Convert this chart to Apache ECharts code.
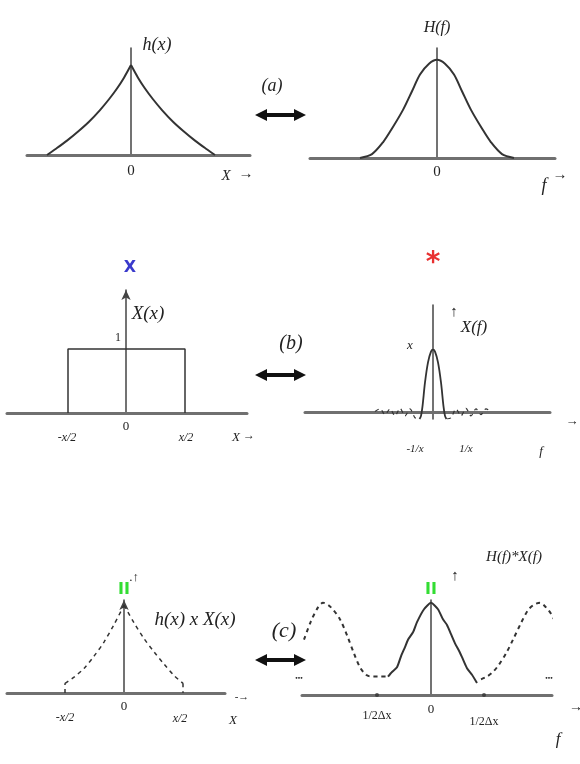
<!DOCTYPE html>
<html>
<head>
<meta charset="utf-8">
<script src="https://cdn.jsdelivr.net/npm/echarts@6/dist/echarts.min.js"></script>
<style>
  html, body { margin: 0; padding: 0; background: #fff; }
  #chart { width: 580px; height: 764px; }
</style>
</head>
<body>
<div id="chart"></div>
<script>
// === DATA (x in units of 100px from each origin) ===
// (a) left: h(x)
const hxX = [-0.84, -0.75, -0.64, -0.52, -0.42, -0.31, -0.22, -0.14, -0.07, 0, 0.07, 0.14, 0.22, 0.31, 0.42, 0.52, 0.64, 0.75, 0.84];
const hxY = [0, 0.07, 0.16, 0.27, 0.37, 0.5, 0.62, 0.74, 0.86, 1, 0.86, 0.74, 0.62, 0.5, 0.37, 0.27, 0.16, 0.07, 0];
// (a) right: H(f)
const HfX = [-0.77, -0.65, -0.54, -0.45, -0.34, -0.25, -0.17, -0.08, 0, 0.08, 0.17, 0.25, 0.34, 0.45, 0.54, 0.65, 0.77];
const HfY = [0, 0.04, 0.16, 0.3, 0.49, 0.68, 0.85, 0.96, 1, 0.96, 0.85, 0.68, 0.49, 0.3, 0.16, 0.04, 0];
// (b) left: rect X(x)
const rectX = [-0.58, -0.58, 0.59, 0.59];
const rectY = [0, 1, 1, 0];
// (b) right: X(f) main lobe + side lobes
const mainX = [-0.135, -0.12, -0.105, -0.08, -0.05, -0.02, 0, 0.02, 0.05, 0.08, 0.105, 0.12, 0.135];
const mainY = [-0.1, -0.05, 0.1, 0.48, 0.8, 0.97, 1, 0.97, 0.8, 0.48, 0.1, -0.05, -0.1];
const sideLX = [-0.58, -0.53, -0.48, -0.43, -0.38, -0.33, -0.28, -0.23, -0.18, -0.14];
const sideLY = [0.02, 0.06, -0.03, 0.06, -0.05, 0.07, -0.05, 0.06, -0.08, -0.1];
const sideRX = [0.14, 0.18, 0.23, 0.28, 0.33, 0.38, 0.43, 0.48, 0.53, 0.58];
const sideRY = [-0.1, -0.08, 0.06, -0.05, 0.07, -0.05, 0.06, -0.03, 0.06, 0.02];
// (c) left: h(x) x X(x)
const clX = [-0.59, -0.59, -0.5, -0.4, -0.3, -0.2, -0.1, 0, 0.1, 0.2, 0.3, 0.4, 0.5, 0.59, 0.59];
const clY = [0, 0.11, 0.18, 0.28, 0.42, 0.58, 0.78, 1, 0.8, 0.62, 0.47, 0.33, 0.2, 0.11, 0];
// (c) right: H(f)*X(f)
const ccX = [-0.43, -0.39, -0.34, -0.3, -0.26, -0.23, -0.18, -0.14, -0.07, 0, 0.07, 0.12, 0.16, 0.2, 0.24, 0.28, 0.31, 0.36, 0.41, 0.46];
const ccY = [0.2, 0.25, 0.3, 0.42, 0.52, 0.6, 0.68, 0.79, 0.93, 1, 0.93, 0.82, 0.76, 0.66, 0.56, 0.48, 0.41, 0.29, 0.22, 0.13];
const repLX = [-1.27, -1.2, -1.13, -1.08, -1.0, -0.91, -0.83, -0.77, -0.71, -0.65, -0.6, -0.52, -0.44];
const repLY = [0.6, 0.8, 0.95, 1.0, 0.95, 0.82, 0.62, 0.45, 0.3, 0.22, 0.2, 0.2, 0.2];
const repRX = [0.5, 0.56, 0.62, 0.68, 0.75, 0.82, 0.9, 0.97, 1.03, 1.09, 1.15, 1.2, 1.26];
const repRY = [0.17, 0.2, 0.25, 0.33, 0.45, 0.6, 0.78, 0.92, 0.98, 1.0, 0.95, 0.88, 0.76];
const tickX = [-0.54, 0.53];

// === LAYOUT ===
const panels = [
  { left: 27,  top: 48,  width: 223, height: 107, xMin: -1.04, xMax: 1.19, yMin: 0,    yMax: 1.19, arrow: false },
  { left: 310, top: 48,  width: 245, height: 110, xMin: -1.27, xMax: 1.18, yMin: 0,    yMax: 1.12, arrow: false },
  { left: 7,   top: 290, width: 240, height: 123, xMin: -1.19, xMax: 1.21, yMin: 0,    yMax: 1.92, arrow: true },
  { left: 305, top: 305, width: 245, height: 114, xMin: -1.28, xMax: 1.17, yMin: -0.1, yMax: 1.71, arrow: false },
  { left: 7,   top: 600, width: 218, height: 93,  xMin: -1.17, xMax: 1.01, yMin: 0,    yMax: 1.06, arrow: true },
  { left: 302, top: 600, width: 250, height: 95,  xMin: -1.29, xMax: 1.21, yMin: 0,    yMax: 1.03, arrow: false }
];

const INK = '#333';
const SERIF = '"Liberation Serif", "DejaVu Serif", serif';

function pairs(xs, ys) {
  return xs.map((x, i) => [x, ys[i]]);
}

function curve(gi, data, opts) {
  opts = opts || {};
  return {
    type: 'line', xAxisIndex: gi, yAxisIndex: gi,
    data: data, showSymbol: false, silent: true,
    smooth: opts.smooth === undefined ? 0.3 : opts.smooth,
    lineStyle: { color: INK, width: opts.width || 2, type: opts.dash ? [4, 4] : 'solid' }
  };
}

// split a peaked curve at x = 0 so the cusp stays sharp
function cusp(gi, xs, ys, opts) {
  const mid = xs.indexOf(0);
  const d = pairs(xs, ys);
  return [curve(gi, d.slice(0, mid + 1), opts), curve(gi, d.slice(mid), opts)];
}

const series = [
  ...cusp(0, hxX, hxY),
  curve(1, pairs(HfX, HfY)),
  curve(2, pairs(rectX, rectY), { smooth: false, width: 1.5 }),
  curve(3, pairs(mainX, mainY), { width: 1.8 }),
  curve(3, pairs(sideLX, sideLY), { dash: true, width: 1.2 }),
  curve(3, pairs(sideRX, sideRY), { dash: true, width: 1.2 }),
  curve(4, pairs(clX, clY).slice(0, 2), { smooth: false, dash: true, width: 1.5 }),
  curve(4, pairs(clX, clY).slice(-2), { smooth: false, dash: true, width: 1.5 }),
  ...cusp(4, clX.slice(1, -1), clY.slice(1, -1), { dash: true, width: 1.5 }),
  curve(5, pairs(ccX, ccY), { smooth: 0.2 }),
  curve(5, pairs(repLX, repLY), { dash: true }),
  curve(5, pairs(repRX, repRY), { dash: true }),
  {
    type: 'scatter', xAxisIndex: 5, yAxisIndex: 5, silent: true,
    data: tickX.map(x => [x, 0]), symbolSize: 4, itemStyle: { color: INK }
  }
];

// === TEXT ===
function t(x, y, text, size, opts) {
  opts = opts || {};
  return {
    type: 'text', x: x, y: y, silent: true,
    style: {
      text: text,
      font: (opts.style || 'italic') + ' ' + (opts.weight || 'normal') + ' ' + size + 'px ' + (opts.family || SERIF),
      fill: opts.color || '#222',
      align: 'center', verticalAlign: 'middle'
    }
  };
}

function dblArrow(y) {
  return [
    { type: 'line', silent: true, shape: { x1: 264, y1: y, x2: 297, y2: y }, style: { stroke: '#111', lineWidth: 4 } },
    { type: 'polygon', silent: true, shape: { points: [[255, y], [267, y - 6], [267, y + 6]] }, style: { fill: '#111' } },
    { type: 'polygon', silent: true, shape: { points: [[306, y], [294, y - 6], [294, y + 6]] }, style: { fill: '#111' } }
  ];
}

const labels = [
  // (a)
  t(157, 45, 'h(x)', 18),
  t(272, 86, '(a)', 18),
  t(131, 171, '0', 15, { style: 'normal' }),
  t(226, 176, 'X', 15),
  t(246, 174, '→', 15, { style: 'normal' }),
  t(437, 28, 'H(f)', 16),
  t(437, 172, '0', 15, { style: 'normal' }),
  t(544, 186, 'f', 18),
  t(560, 175, '→', 15, { style: 'normal' }),
  // (b)
  t(130, 268, 'X', 16, { style: 'normal', weight: 'bold', family: '"DejaVu Sans", sans-serif', color: '#3a3acc' }),
  t(148, 314, 'X(x)', 19),
  t(118, 338, '1', 12, { style: 'normal' }),
  t(291, 344, '(b)', 20),
  t(67, 438, '-x/2', 12),
  t(126, 427, '0', 13, { style: 'normal' }),
  t(186, 438, 'x/2', 12),
  t(236, 438, 'X', 13),
  t(249, 436, '→', 12, { style: 'normal' }),
  t(433, 264, '*', 28, { style: 'normal', weight: 'bold', family: '"DejaVu Sans", sans-serif', color: '#e83030' }),
  t(410, 346, 'x', 13),
  t(454, 312, '↑', 15, { style: 'normal' }),
  t(474, 328, 'X(f)', 17),
  t(415, 449, '-1/x', 11),
  t(466, 449, '1/x', 11),
  t(541, 452, 'f', 13),
  t(572, 422, '→', 13, { style: 'normal' }),
  // (c)
  t(124, 590, 'II', 16, { style: 'normal', weight: 'bold', family: '"DejaVu Sans", sans-serif', color: '#33dd33' }),
  t(134, 578, '.↑', 13, { style: 'normal' }),
  t(195, 620, 'h(x) x X(x)', 19),
  t(284, 631, '(c)', 22),
  t(65, 718, '-x/2', 12),
  t(124, 707, '0', 13, { style: 'normal' }),
  t(180, 719, 'x/2', 12),
  t(233, 721, 'X', 13),
  t(242, 697, '-→', 11, { style: 'normal' }),
  t(514, 557, 'H(f)*X(f)', 15),
  t(455, 576, '↑', 15, { style: 'normal' }),
  t(431, 590, 'II', 16, { style: 'normal', weight: 'bold', family: '"DejaVu Sans", sans-serif', color: '#33dd33' }),
  t(299, 678, '•••', 7, { style: 'normal', weight: 'bold' }),
  t(549, 678, '•••', 7, { style: 'normal', weight: 'bold' }),
  t(377, 716, '1/2Δx', 12, { style: 'normal' }),
  t(484, 722, '1/2Δx', 12, { style: 'normal' }),
  t(431, 710, '0', 13, { style: 'normal' }),
  t(558, 740, 'f', 17),
  t(576, 707, '→', 14, { style: 'normal' })
];

const graphic = [...labels, ...dblArrow(115), ...dblArrow(375), ...dblArrow(660)];

// === CHART ===
const chart = echarts.init(document.getElementById('chart'), null, { renderer: 'canvas' });

chart.setOption({
  animation: false,
  backgroundColor: '#fff',
  grid: panels.map(p => ({ left: p.left, top: p.top, width: p.width, height: p.height })),
  xAxis: panels.map((p, i) => ({
    gridIndex: i, type: 'value', min: p.xMin, max: p.xMax,
    axisLine: { show: true, onZero: true, lineStyle: { color: '#707070', width: 3 } },
    axisTick: { show: false }, axisLabel: { show: false }, splitLine: { show: false }
  })),
  yAxis: panels.map((p, i) => ({
    gridIndex: i, type: 'value', min: p.yMin, max: p.yMax,
    axisLine: {
      show: true, onZero: true,
      symbol: p.arrow ? ['none', 'arrow'] : 'none', symbolSize: [7, 10],
      lineStyle: { color: '#444', width: 1.5 }
    },
    axisTick: { show: false }, axisLabel: { show: false }, splitLine: { show: false }
  })),
  series: series,
  graphic: graphic
});
</script>
</body>
</html>
